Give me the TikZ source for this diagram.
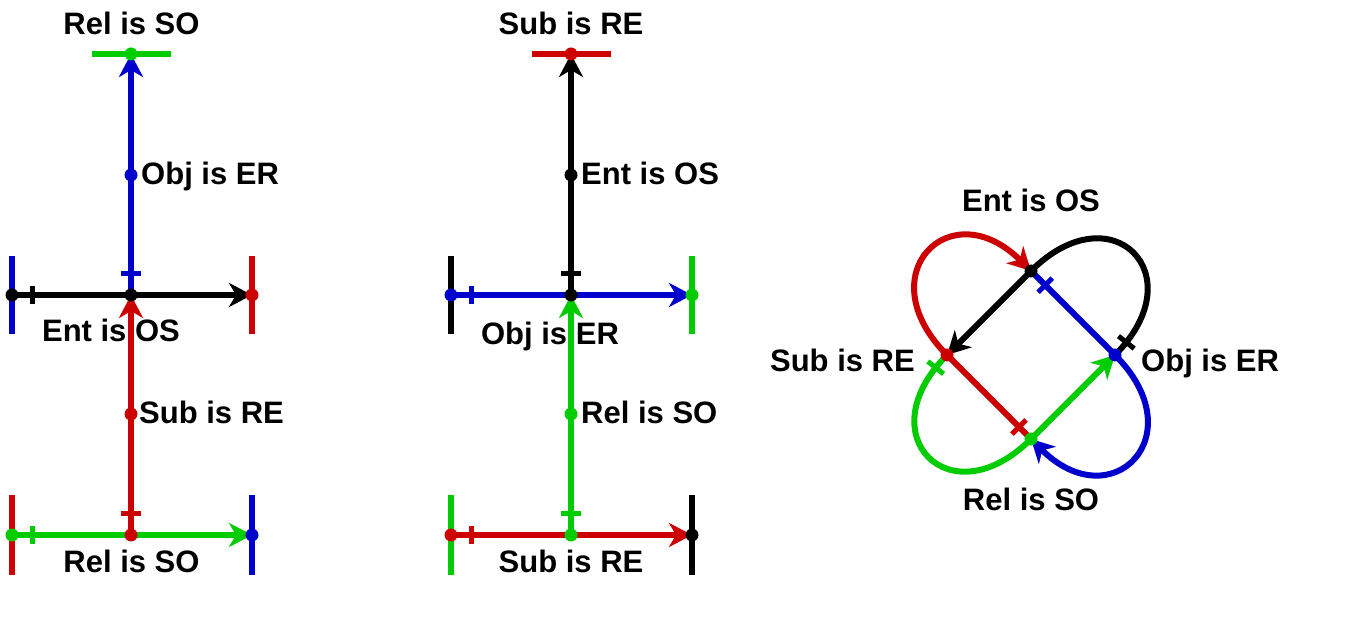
\documentclass[tikz,border=0pt]{standalone}
\usepackage{fontspec}
\setmainfont{Liberation Sans}
\usetikzlibrary{arrows.meta,decorations.markings}
\definecolor{cr}{RGB}{204,0,0}
\definecolor{cg}{RGB}{0,204,0}
\definecolor{cb}{RGB}{0,0,204}
\tikzset{
  arr/.style={line width=5.5pt,-{Stealth[length=23pt,width=24pt,inset=7pt]}},
  bar/.style={line width=5.5pt},
  tk/.style={line width=5pt},
  dot/.style={circle,fill=#1,draw=none,inner sep=0pt,minimum size=13pt},
  lbl/.style={font=\fontsize{31}{36}\selectfont\bfseries,inner sep=0pt,text=black},
  knot/.style={line width=6pt,-{Stealth[length=23pt,width=24pt,inset=7pt]}},
  tickat/.style 2 args={postaction={decorate,decoration={markings,mark=at position #1 with {\draw[#2,line width=5pt,-] (0,-10pt) -- (0,10pt);}}}},
}
\begin{document}
\begin{tikzpicture}[x=1pt,y=1pt]
\useasboundingbox (0,0) rectangle (1347,624);
\fill[white] (0,0) rectangle (1347,624);

% ---------------- left diagram ----------------
\coordinate (A0) at (131,570);
\coordinate (A1) at (131,449);
\coordinate (AC) at (131,329);
\coordinate (AL) at (12,329);
\coordinate (AR) at (252,329);
\coordinate (A2) at (131,210);
\coordinate (AB) at (131,89);
\coordinate (ABL) at (12,89);
\coordinate (ABR) at (252,89);

\draw[bar,cg] ([xshift=-39pt]A0) -- ([xshift=40pt]A0);
\draw[bar,cb] ([yshift=39pt]AL) -- ([yshift=-39pt]AL);
\draw[bar,cr] ([yshift=39pt]AR) -- ([yshift=-39pt]AR);
\draw[bar,cr] ([yshift=40pt]ABL) -- ([yshift=-40pt]ABL);
\draw[bar,cb] ([yshift=40pt]ABR) -- ([yshift=-40pt]ABR);

\draw[arr,black] (AL) -- (AR);
\draw[arr,cb] (AC) -- (A0);
\draw[arr,cg] (ABL) -- (ABR);
\draw[arr,cr] (AB) -- (AC);

\draw[tk,black] ([xshift=20pt,yshift=-9pt]AL) -- ([xshift=20pt,yshift=9pt]AL);
\draw[tk,cb] ([xshift=-10pt,yshift=21pt]AC) -- ([xshift=10pt,yshift=21pt]AC);
\draw[tk,cg] ([xshift=20pt,yshift=-9pt]ABL) -- ([xshift=20pt,yshift=9pt]ABL);
\draw[tk,cr] ([xshift=-10pt,yshift=21pt]AB) -- ([xshift=10pt,yshift=21pt]AB);

\node[dot=cg] (dA0) at (A0) {};
\node[dot=cb] (dA1) at (A1) {};
\node[dot=black] (dAL) at (AL) {};
\node[dot=black] (dAC) at (AC) {};
\node[dot=cr] (dAR) at (AR) {};
\node[dot=cr] (dA2) at (A2) {};
\node[dot=cg] (dABL) at (ABL) {};
\node[dot=cr] (dAB) at (AB) {};
\node[dot=cb] (dABR) at (ABR) {};

\node[lbl,anchor=base] (la1) at (131.5,589) {Rel is SO};
\node[lbl,anchor=base west] (la2) at (141,439) {Obj is ER};
\node[lbl,anchor=base] (la3) at (111,282) {Ent is OS};
\node[lbl,anchor=base west] (la4) at (139,200) {Sub is RE};
\node[lbl,anchor=base] (la5) at (131.5,51) {Rel is SO};

% ---------------- middle diagram ----------------
\coordinate (M0) at (571,570);
\coordinate (M1) at (571,449);
\coordinate (MC) at (571,329);
\coordinate (ML) at (451,329);
\coordinate (MR) at (692,329);
\coordinate (M2) at (571,210);
\coordinate (MB) at (571,89);
\coordinate (MBL) at (451,89);
\coordinate (MBR) at (692,89);

\draw[bar,cr] ([xshift=-39pt]M0) -- ([xshift=40pt]M0);
\draw[bar,black] ([yshift=39pt]ML) -- ([yshift=-39pt]ML);
\draw[bar,cg] ([yshift=39pt]MR) -- ([yshift=-39pt]MR);
\draw[bar,cg] ([yshift=40pt]MBL) -- ([yshift=-40pt]MBL);
\draw[bar,black] ([yshift=40pt]MBR) -- ([yshift=-40pt]MBR);

\draw[arr,cb] (ML) -- (MR);
\draw[arr,black] (MC) -- (M0);
\draw[arr,cr] (MBL) -- (MBR);
\draw[arr,cg] (MB) -- (MC);

\draw[tk,cb] ([xshift=20pt,yshift=-9pt]ML) -- ([xshift=20pt,yshift=9pt]ML);
\draw[tk,black] ([xshift=-10pt,yshift=21pt]MC) -- ([xshift=10pt,yshift=21pt]MC);
\draw[tk,cr] ([xshift=20pt,yshift=-9pt]MBL) -- ([xshift=20pt,yshift=9pt]MBL);
\draw[tk,cg] ([xshift=-10pt,yshift=21pt]MB) -- ([xshift=10pt,yshift=21pt]MB);

\node[dot=cr] (dM0) at (M0) {};
\node[dot=black] (dM1) at (M1) {};
\node[dot=cb] (dML) at (ML) {};
\node[dot=black] (dMC) at (MC) {};
\node[dot=cg] (dMR) at (MR) {};
\node[dot=cg] (dM2) at (M2) {};
\node[dot=cr] (dMBL) at (MBL) {};
\node[dot=cg] (dMB) at (MB) {};
\node[dot=black] (dMBR) at (MBR) {};

\node[lbl,anchor=base] (lm1) at (571,589) {Sub is RE};
\node[lbl,anchor=base west] (lm2) at (581,439) {Ent is OS};
\node[lbl,anchor=base] (lm3) at (550,279) {Obj is ER};
\node[lbl,anchor=base west] (lm4) at (581,200) {Rel is SO};
\node[lbl,anchor=base] (lm5) at (571,51) {Sub is RE};

% ---------------- knot diagram ----------------
\coordinate (T) at (1031,353);
\coordinate (L) at (947,269);
\coordinate (R) at (1115,269);
\coordinate (B) at (1031,185);

\draw[knot,cb,tickat={20pt}{cb}] (T) -- (R) to[out=-45,in=-45,looseness=2.45] (B);
\draw[knot,cr,tickat={17pt}{cr}] (B) -- (L) to[out=135,in=135,looseness=2.45] (T);
\draw[knot,black,tickat={17pt}{black}] (R) to[out=45,in=45,looseness=2.45] (T) -- (L);
\draw[knot,cg,tickat={17pt}{cg}] (L) to[out=225,in=225,looseness=2.45] (B) -- (R);

\node[dot=black] (dT) at (T) {};
\node[dot=cr] (dL) at (L) {};
\node[dot=cb] (dR) at (R) {};
\node[dot=cg] (dB) at (B) {};

\node[lbl,anchor=base] (lk1) at (1031,412) {Ent is OS};
\node[lbl,anchor=base east] (lk2) at (915,252) {Sub is RE};
\node[lbl,anchor=base west] (lk3) at (1141,252) {Obj is ER};
\node[lbl,anchor=base] (lk4) at (1031,113) {Rel is SO};
\end{tikzpicture}
\end{document}
